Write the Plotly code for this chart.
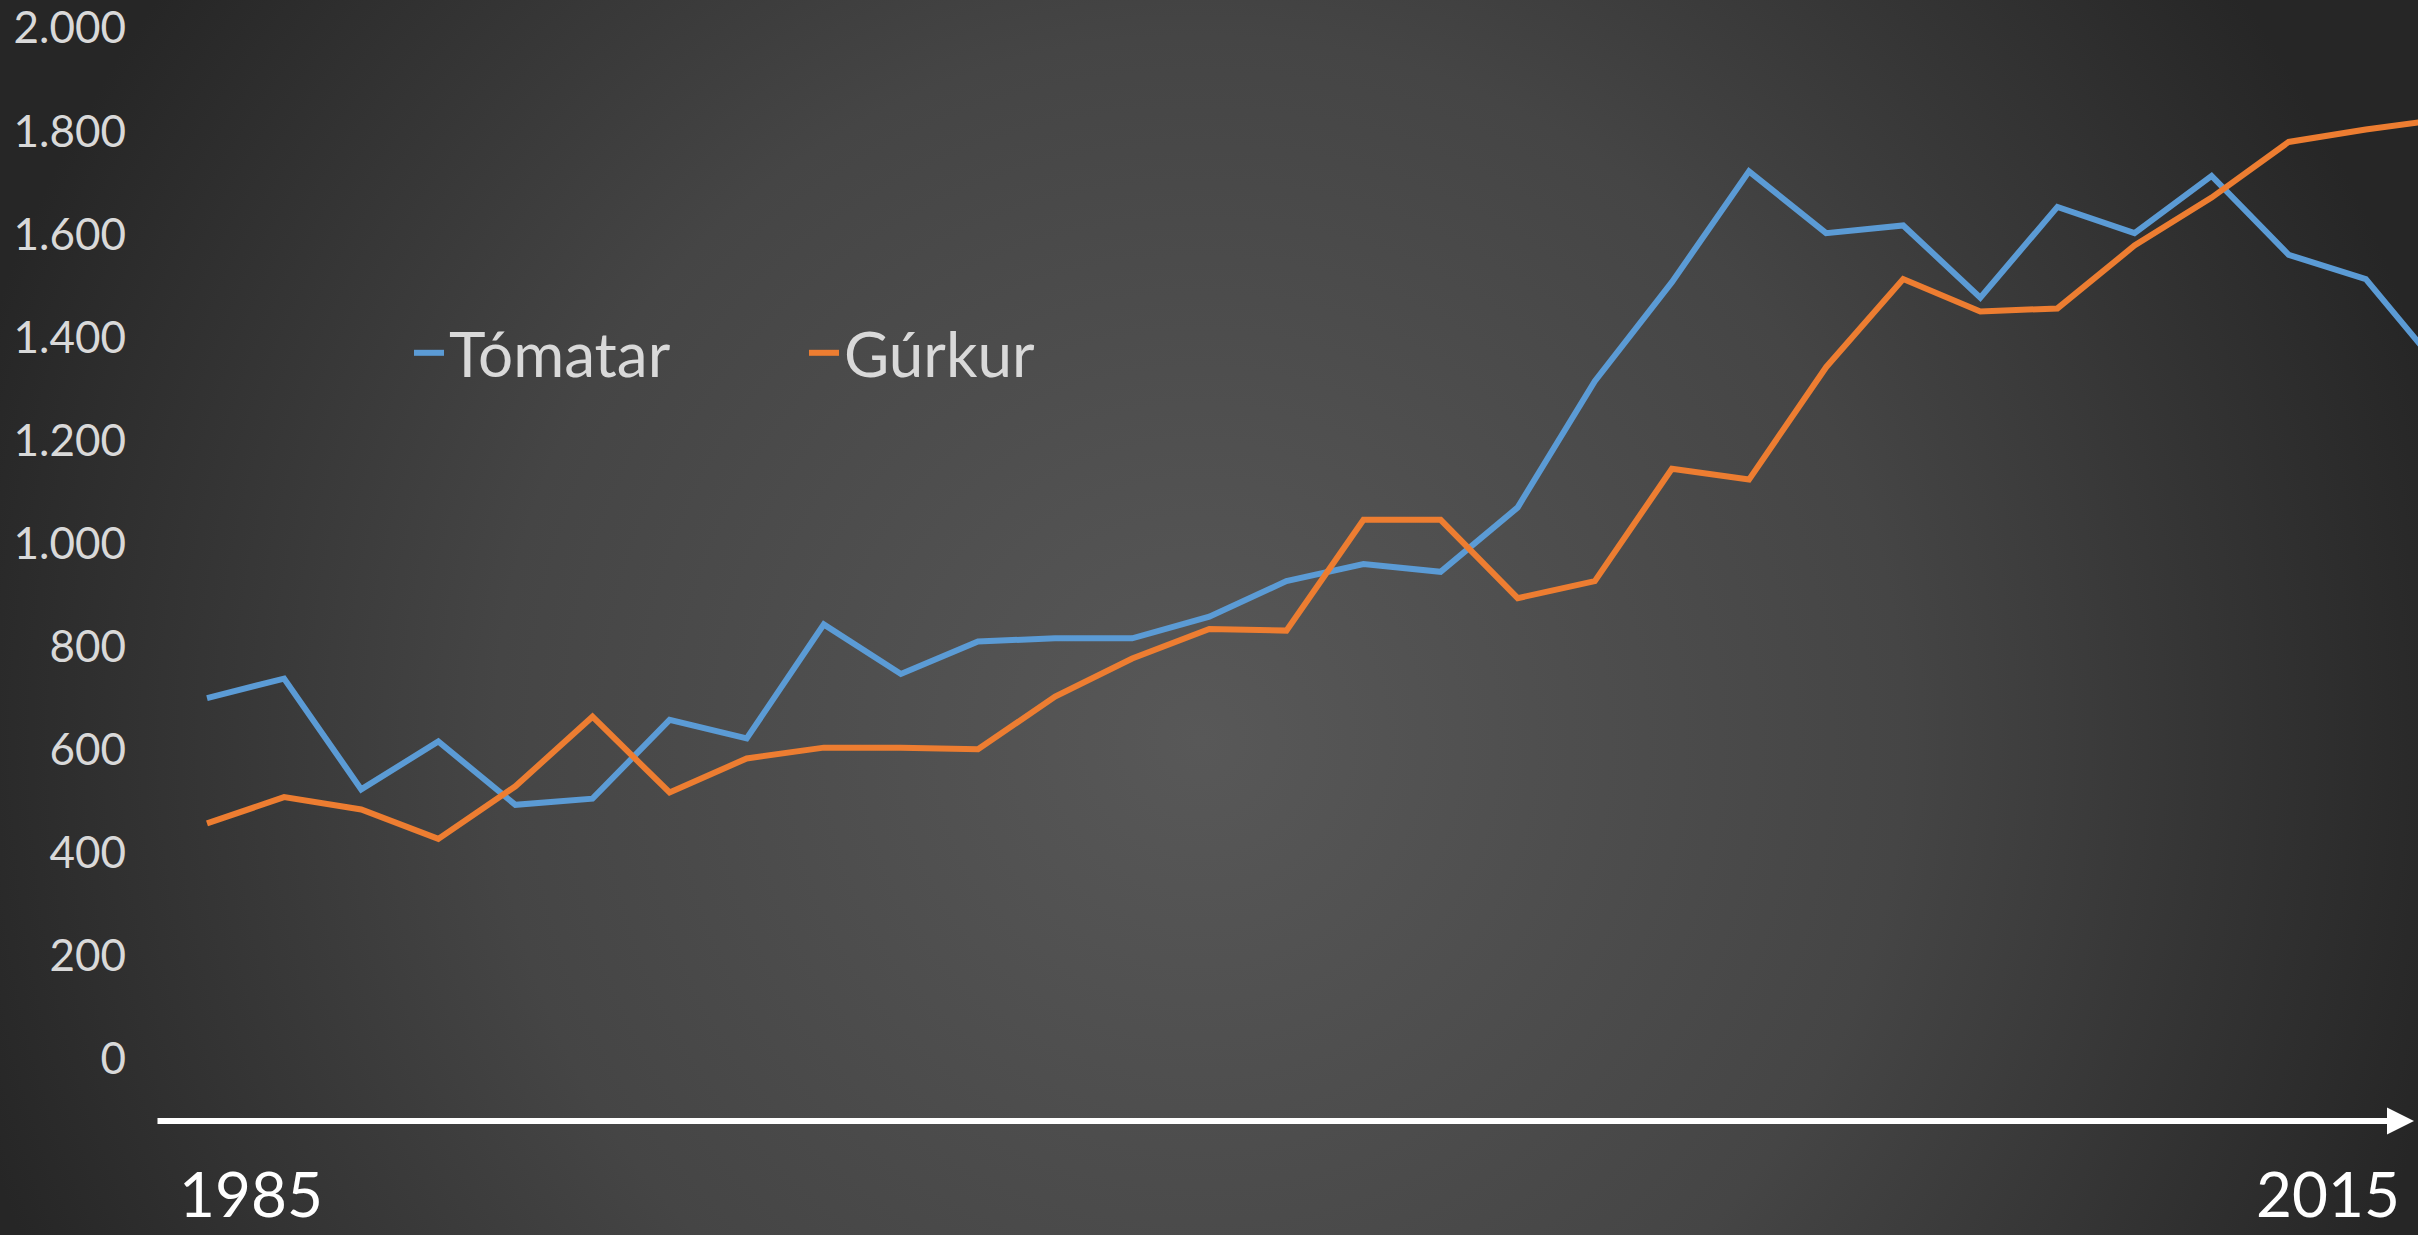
import base64
import plotly.graph_objects as go

years = list(range(1985, 2015))
tomatar = [700, 738, 523, 616, 493, 505, 658, 622, 843, 747, 810, 816, 816, 858, 927,
           960, 945, 1070, 1315, 1507, 1722, 1602, 1617, 1477, 1653, 1602, 1713, 1560, 1513, 1333]
gurkur = [457, 508, 484, 427, 529, 664, 517, 583, 604, 604, 601, 703, 777, 834, 831,
          1046, 1046, 894, 927, 1145, 1124, 1342, 1513, 1450, 1456, 1578, 1671, 1779, 1803, 1823]
y_ticks = [0, 200, 400, 600, 800, 1000, 1200, 1400, 1600, 1800, 2000]
first_label = "1985"
last_label = "2015"

W, H = 2418, 1235
LEFT = 135
PLOT_W = W - LEFT
PX_PER_YEAR = 77.1

# x range so that 1985 sits at pixel 207 and the right edge cuts the series
x0 = 1985 - (207 - LEFT) / PX_PER_YEAR
x1 = x0 + PLOT_W / PX_PER_YEAR
# y range: 0 at pixel 1059, 2000 at pixel 28
px_per_unit = (1059 - 28) / 2000
y_top = 1059 / px_per_unit
y_bot = -(H - 1059) / px_per_unit

svg = f'''<svg xmlns="http://www.w3.org/2000/svg" width="{W}" height="{H}" viewBox="0 0 {W} {H}" preserveAspectRatio="none">
<defs><radialGradient id="g" gradientUnits="userSpaceOnUse" cx="1200" cy="740" r="1280">
<stop offset="0" stop-color="#585858"/><stop offset="0.55" stop-color="#454545"/><stop offset="1" stop-color="#262626"/>
</radialGradient></defs><rect width="{W}" height="{H}" fill="url(#g)"/></svg>'''
bg_src = "data:image/svg+xml;base64," + base64.b64encode(svg.encode()).decode()

fig = go.Figure()
fig.add_trace(go.Scatter(x=years, y=tomatar, name="Tómatar", mode="lines",
                         line=dict(color="#5B9BD5", width=6)))
fig.add_trace(go.Scatter(x=years, y=gurkur, name="Gúrkur", mode="lines",
                         line=dict(color="#ED7D31", width=6)))

fig.add_layout_image(dict(source=bg_src, xref="paper", yref="paper",
                          x=-LEFT / PLOT_W, y=1, sizex=W / PLOT_W, sizey=1,
                          xanchor="left", yanchor="top", sizing="stretch", layer="below"))

# white arrow under the chart
y_arrow = -(1121 - 1059) / px_per_unit
fig.add_annotation(x=x0 + (2414 - LEFT) / PX_PER_YEAR, y=y_arrow,
                   ax=x0 + (156 - LEFT) / PX_PER_YEAR, ay=y_arrow,
                   xref="x", yref="y", axref="x", ayref="y", text="",
                   showarrow=True, arrowhead=2, arrowsize=0.9, arrowwidth=6,
                   arrowcolor="white")

# year labels under the arrow
y_years = -(1193 - 1059) / px_per_unit
fig.add_annotation(x=(177 - LEFT) / PLOT_W, y=y_years, xref="paper", yref="y",
                   text=first_label, showarrow=False, xanchor="left", yanchor="middle",
                   font=dict(size=62, color="white"))
fig.add_annotation(x=(2402 - LEFT) / PLOT_W, y=y_years, xref="paper", yref="y",
                   text=last_label, showarrow=False, xanchor="right", yanchor="middle",
                   font=dict(size=62, color="white"))

fig.update_layout(
    width=W, height=H,
    margin=dict(l=LEFT, r=0, t=0, b=0),
    paper_bgcolor="#262626", plot_bgcolor="rgba(0,0,0,0)",
    separators=",.",
    font=dict(family="Lato, Open Sans, sans-serif", color="#D9D9D9"),
    showlegend=True,
    legend=dict(orientation="h", x=(409 - LEFT) / PLOT_W, y=1 - 353 / H,
                xanchor="left", yanchor="middle", bgcolor="rgba(0,0,0,0)",
                font=dict(size=62, color="#D9D9D9"),
                entrywidth=350, entrywidthmode="pixels"),
    xaxis=dict(range=[x0, x1], showgrid=False, zeroline=False, showticklabels=False,
               showline=False, fixedrange=True),
    yaxis=dict(range=[y_bot, y_top], showgrid=False, zeroline=False, showline=False,
               tickvals=y_ticks, tickformat=",d", ticklabelstandoff=8,
               tickfont=dict(size=44, color="#D9D9D9"), fixedrange=True),
)

fig.write_html("out.html", config={"displayModeBar": False},
               post_script="document.body.style.margin='0';")
